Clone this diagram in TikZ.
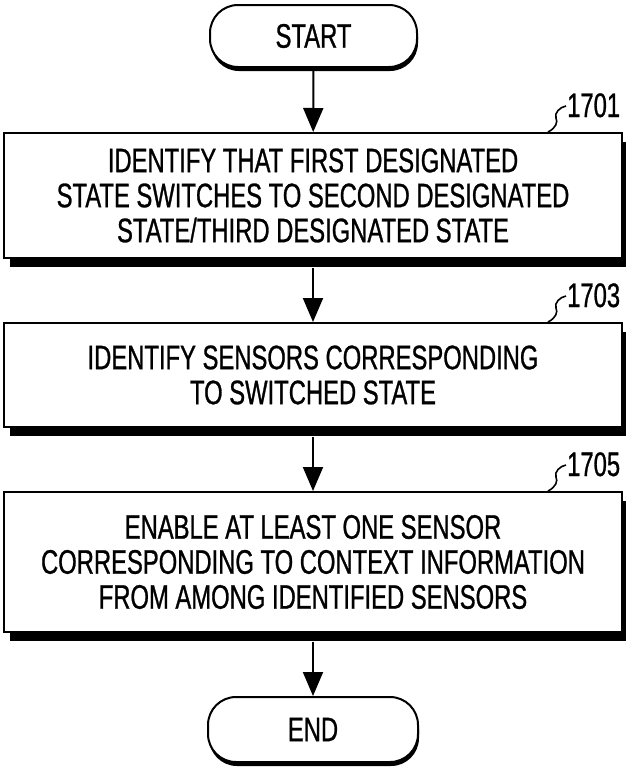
\documentclass[tikz,border=0pt]{standalone}
\usepackage{fontspec}
\setmainfont{Liberation Sans}[FakeStretch=0.70,FakeBold=0.8]
\usetikzlibrary{shadows,arrows.meta}
\begin{document}
\begin{tikzpicture}[x=1pt,y=-1pt]
\tikzset{
  txt/.style={font=\fontsize{34}{35}\selectfont},
  box/.style={txt, draw, line width=2pt, fill=white, rectangle, inner sep=0pt, align=center,
    drop shadow={shadow xshift=6pt, shadow yshift=-9pt, fill=black, opacity=1}},
  term/.style={txt, draw, line width=2pt, fill=white, rounded corners=28pt, inner sep=0pt,
    drop shadow={shadow xshift=1pt, shadow yshift=-4pt, fill=black, opacity=1}},
  arr/.style={line width=2pt, -{Triangle[length=24pt,width=20pt]}},
  hook/.style={line width=1.6pt},
  lbl/.style={txt, anchor=base west, inner sep=0pt},
}
\useasboundingbox (0,0) rectangle (626,771);
\fill[white] (0,0) rectangle (626,771);

\node[term, minimum width=207pt, minimum height=62pt] (start) at (313.5,36) {START};
\node[box, minimum width=618pt, minimum height=125pt] (b1) at (313,195.5)
  {IDENTIFY THAT FIRST DESIGNATED\\STATE SWITCHES TO SECOND DESIGNATED\\STATE/THIRD DESIGNATED STATE};
\node[box, minimum width=618pt, minimum height=104pt] (b2) at (313,375)
  {IDENTIFY SENSORS CORRESPONDING\\TO SWITCHED STATE};
\node[box, minimum width=618pt, minimum height=140pt] (b3) at (313,562)
  {ENABLE AT LEAST ONE SENSOR\\CORRESPONDING TO CONTEXT INFORMATION\\FROM AMONG IDENTIFIED SENSORS};
\node[term, minimum width=210pt, minimum height=65pt] (stop) at (313,729.5) {END};

\draw[arr] (start) -- (b1);
\draw[arr] ([yshift=-9pt]b1.south) -- (b2);
\draw[arr] ([yshift=-9pt]b2.south) -- (b3);
\draw[arr] ([yshift=-9pt]b3.south) -- (stop);

\foreach \b/\n in {b1/1701, b2/1703, b3/1705}{
  \coordinate (h0\b) at ([xshift=235pt]\b.north);
  \coordinate (h1\b) at ([xshift=253pt,yshift=26pt]\b.north);
  \draw[hook] (h0\b) .. controls +(8,-4) and +(2,4) .. ([xshift=243pt,yshift=14pt]\b.north)
              .. controls +(-2,-5) and +(-6,1) .. (h1\b);
  \node[lbl] (l\b) at ([xshift=254pt,yshift=15pt]\b.north) {\n};
}
\end{tikzpicture}
\end{document}
